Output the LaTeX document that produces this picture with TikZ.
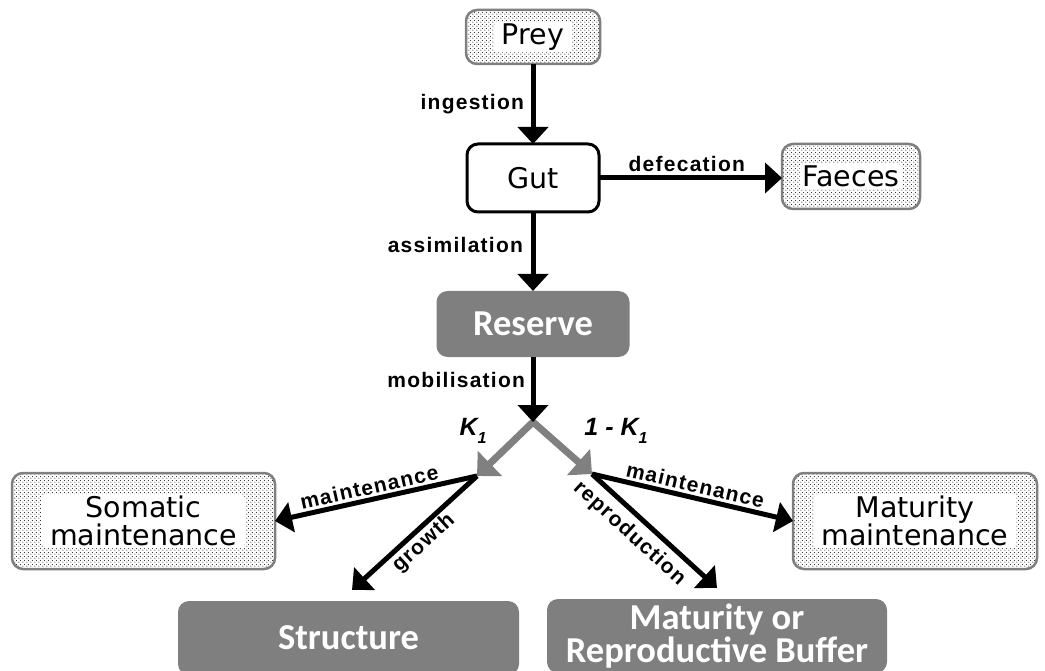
\documentclass[tikz,border=0pt]{standalone}
\usepackage{fontspec}
\setmainfont{DejaVu Sans}
\newfontfamily\spacedsans[LetterSpace=6]{Liberation Sans}
\newfontfamily\plainsans{Liberation Sans}
\newfontfamily\carlitofont{Carlito}
\usetikzlibrary{arrows.meta,patterns}

\definecolor{boxgray}{HTML}{7F7F7F}
\definecolor{splitgray}{HTML}{808080}

% staggered stipple used inside the external-pool boxes
\pgfdeclarepatternformonly{stipple}{\pgfpointorigin}{\pgfqpoint{3.6pt}{3.6pt}}{\pgfqpoint{3.6pt}{3.6pt}}{%
  \pgfpathcircle{\pgfqpoint{0.9pt}{0.9pt}}{0.62pt}%
  \pgfpathcircle{\pgfqpoint{2.7pt}{2.7pt}}{0.62pt}%
  \pgfusepath{fill}%
}

\newcommand{\boxtextfont}{\fontsize{28.5}{28}\selectfont}
\newcommand{\darkboxfont}{\carlitofont\bfseries\fontsize{36.5}{30}\selectfont}
\newcommand{\flowlabelfont}{\spacedsans\bfseries\fontsize{21}{22}\selectfont}
\newcommand{\fractionfont}{\plainsans\bfseries\itshape\fontsize{25}{26}\selectfont}
\newcommand{\subone}{\raisebox{-0.3em}{\fontsize{16}{16}\selectfont 1}}

\begin{document}
\begin{tikzpicture}[x=1pt,y=-1pt,
  every node/.style={outer sep=0pt},
  patbox/.style={draw=boxgray, line width=2.5pt, rounded corners=11pt,
    pattern=stipple, pattern color=black!85, inner sep=0pt},
  pattext/.style={fill=white, rounded corners=4pt, inner xsep=8pt, inner ysep=2pt,
    align=center, font=\boxtextfont},
  gutbox/.style={draw=black, line width=3pt, rounded corners=11pt,
    fill=white, font=\boxtextfont},
  darkbox/.style={fill=boxgray, rounded corners=11pt, text=white,
    align=center, font=\darkboxfont},
  flow/.style={line width=5pt, -{Triangle[length=17pt,width=30pt]}},
  splitline/.style={draw=splitgray, line width=7pt, line join=miter,
    {Triangle[length=18pt,width=34pt]}-{Triangle[length=18pt,width=34pt]}},
  lbl/.style={font=\flowlabelfont, inner sep=0pt},
  frac/.style={font=\fractionfont, inner sep=0pt},
]
\useasboundingbox (0,0) rectangle (1045,671);
\clip (0,0) rectangle (1045,671);

% boxes
\node[patbox, minimum width=134pt, minimum height=54pt] (prey) at (533,37) {};
\node[pattext] (preytext) at (prey) {Prey};

\node[gutbox, minimum width=132pt, minimum height=68pt] (gut) at (533,178) {Gut};

\node[patbox, minimum width=138pt, minimum height=65pt] (faeces) at (851,176.5) {};
\node[pattext, inner xsep=3pt] (faecestext) at (faeces) {Faeces};

\node[darkbox, minimum width=193pt, minimum height=66pt] (reserve) at (533,324) {Reserve};

\node[patbox, minimum width=263pt, minimum height=96pt] (somatic) at (143.5,521) {};
\node[pattext] (somatictext) at (somatic) {Somatic\\maintenance};

\node[patbox, minimum width=244pt, minimum height=96pt] (matmaint) at (915,521) {};
\node[pattext] (matmainttext) at (matmaint) {Maturity\\maintenance};

\node[darkbox, minimum width=341pt, minimum height=74pt] (structure) at (348.5,638) {Structure};
\node[darkbox, minimum width=340pt, minimum height=74pt] (repbuf) at (717,636) {Maturity or\\Reproductive Buffer};

% junction points
\coordinate (fork) at (533,422);
\coordinate (lsplit) at (477,476);
\coordinate (rsplit) at (592,474);
\coordinate (growthtip) at (352,590);
\coordinate (reprotip) at (717,588);

% feeding chain
\draw[flow] (prey.south) -- (gut.north)
  node[lbl, midway, left=9pt] {ingestion};
\draw[flow] (gut.east) -- (faeces.west |- gut.east)
  node[lbl, pos=0.48, above=6pt] {defecation};
\draw[flow] (gut.south) -- (reserve.north)
  node[lbl, pos=0.42, left=10pt] {assimilation};

% allocation to the four sinks
\draw[flow] (lsplit) -- (somatic.east)
  node[lbl, pos=0.52, sloped, above=5pt] {maintenance};
\draw[flow] (lsplit) -- (growthtip)
  node[lbl, pos=0.5, sloped, below=4pt] {growth};
\draw[flow] (rsplit) -- (matmaint.west)
  node[lbl, pos=0.5, sloped, above=5pt] {maintenance};
\draw[flow] (rsplit) -- (reprotip)
  node[lbl, pos=0.4, sloped, below=9pt] {reproduction};

% kappa split
\draw[splitline] (lsplit) -- (fork) -- (rsplit);
\draw[flow] (reserve.south) -- (fork)
  node[lbl, pos=0.35, left=8pt] {mobilisation};

\node[frac] (kappa) at (473,431) {K\subone};
\node[frac] (onekappa) at (616,431) {1 - K\subone};
\end{tikzpicture}
\end{document}
